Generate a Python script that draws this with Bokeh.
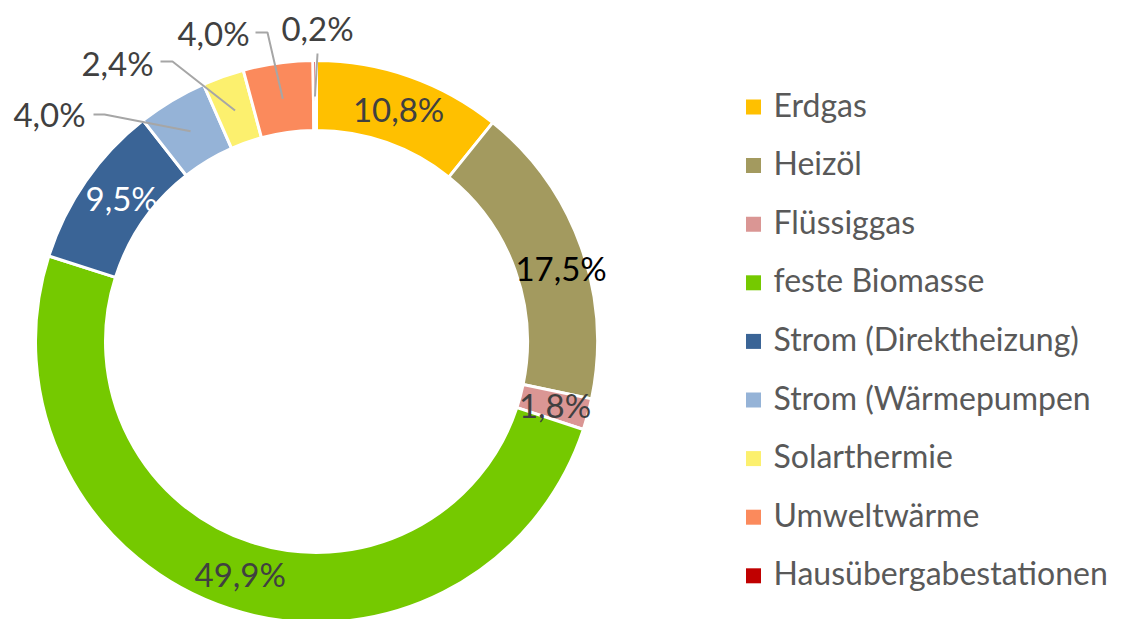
import math
from bokeh.plotting import figure
from bokeh.models import Range1d, ColumnDataSource
from bokeh.core.properties import value
from bokeh.embed import file_html
from bokeh.resources import INLINE

categories = ["Erdgas", "Heizöl", "Flüssiggas", "feste Biomasse", "Strom (Direktheizung)",
              "Strom (Wärmepumpen", "Solarthermie", "Umweltwärme", "Hausübergabestationen"]
values = [10.8, 17.5, 1.8, 49.9, 9.5, 4.0, 2.4, 4.0, 0.2]
labels = ["10,8%", "17,5%", "1,8%", "49,9%", "9,5%", "4,0%", "2,4%", "4,0%", "0,2%"]
colors = ["#FFC000", "#A39A5F", "#DA9694", "#75C900", "#3A6496",
          "#95B3D7", "#FCF06E", "#FB8A5C", "#C00000"]
label_colors = ["#404040", "#000000", "#404040", "#404040", "#FFFFFF",
                "#404040", "#404040", "#404040", "#404040"]
outside = [False, False, False, False, False, True, True, True, True]

FONT = "Lato"
FS_LAB = "33px"
FS_LEG = "32px"
W, H = 1128, 619
def Y(py):
    return H - py

cx, cy = 316, Y(341)
r_out, r_in = 281, 211

total = sum(values)
starts, ends, mids = [], [], []
cum = 0.0
for v in values:
    a0 = math.pi / 2 - 2 * math.pi * cum / total
    cum += v
    a1 = math.pi / 2 - 2 * math.pi * cum / total
    starts.append(a0)
    ends.append(a1)
    mids.append((a0 + a1) / 2)

p = figure(width=W, height=H, output_backend="svg", toolbar_location=None,
           x_range=Range1d(0, W), y_range=Range1d(0, H),
           min_border=0, outline_line_color=None)
p.axis.visible = False
p.grid.visible = False
p.background_fill_color = "white"

src = ColumnDataSource(dict(start=starts, end=ends, color=colors, cat=categories))
p.annular_wedge(x=cx, y=cy, inner_radius=r_in, outer_radius=r_out,
                start_angle="start", end_angle="end", direction="clock",
                fill_color="color", line_color="white", line_width=3, source=src)

# inside labels (small layout nudges in pixels, like the best-fit placement)
r_lab = 247
nudge = {1: (12, -10), 4: (8, 3), 3: (0, 2)}
ix, iy, it, ic = [], [], [], []
for i in range(len(values)):
    if not outside[i]:
        dx, dy = nudge.get(i, (0, 0))
        ix.append(cx + r_lab * math.cos(mids[i]) + dx)
        iy.append(cy + r_lab * math.sin(mids[i]) + dy)
        it.append(labels[i])
        ic.append(label_colors[i])
p.text(x=ix, y=iy, text=it, text_color=ic, text_align="center", text_baseline="middle",
       text_font=value(FONT), text_font_size=FS_LAB)

# outside labels with leader lines (label anchor / elbow positions are layout)
out_label_pos = {5: (49, 113), 6: (117, 62), 7: (213, 32), 8: (317, 27)}
out_elbow = {5: [(93, 114), (104, 114)], 6: [(160, 61), (172, 61)],
             7: [(255, 32), (267, 32)], 8: [(317, 53)]}
r_lead = 245
for i, (lx, ly) in out_label_pos.items():
    ex = cx + r_lead * math.cos(mids[i])
    ey = cy + r_lead * math.sin(mids[i])
    pts = out_elbow[i]
    xs = [q[0] for q in pts] + [ex]
    ys = [Y(q[1]) for q in pts] + [ey]
    p.line(xs, ys, line_color="#A6A6A6", line_width=2)
    p.text(x=[lx], y=[Y(ly)], text=[labels[i]], text_color=label_colors[i],
           text_align="center", text_baseline="middle",
           text_font=value(FONT), text_font_size=FS_LAB)

# legend
leg_y0, leg_dy = 106.5, 58.6
lgx = [753] * len(categories)
lgy = [Y(leg_y0 + k * leg_dy) for k in range(len(categories))]
p.scatter(x=lgx, y=lgy, marker="square", size=15, fill_color=colors, line_color=None)
p.text(x=[773] * len(categories), y=[v + 3 for v in lgy], text=categories,
       text_color="#595959", text_align="left", text_baseline="middle",
       text_font=value(FONT), text_font_size=FS_LEG)

open("out.html", "w").write(file_html(p, INLINE))
